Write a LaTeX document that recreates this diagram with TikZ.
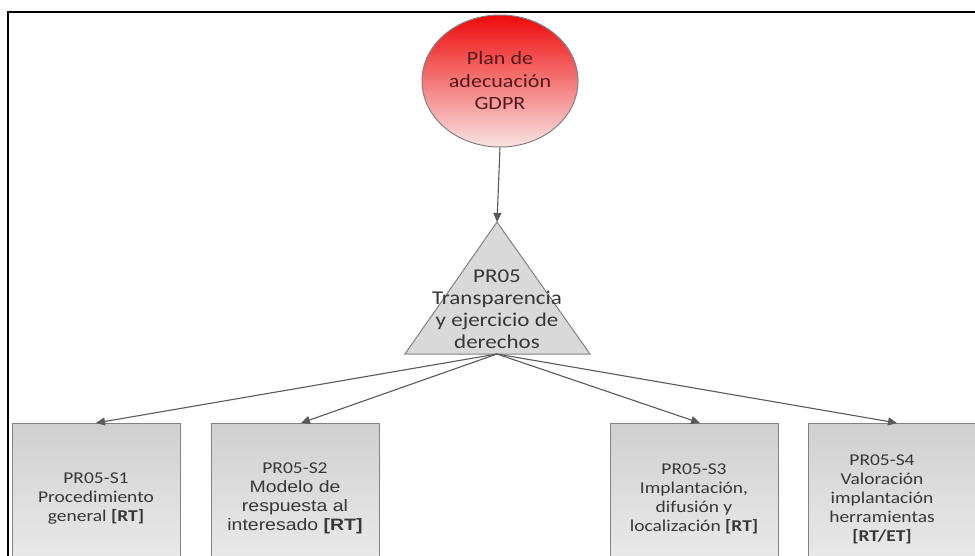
\documentclass[tikz,border=0pt]{standalone}
\usepackage{fontspec}
\setmainfont{Carlito}[FakeStretch=1.18]
\newfontfamily\arialf{Liberation Sans}[FakeStretch=1.18]
\usetikzlibrary{shapes.geometric,arrows.meta}
\definecolor{txtgray}{RGB}{55,55,55}
\definecolor{txtred}{RGB}{85,25,25}
\definecolor{linegray}{RGB}{90,90,90}
\definecolor{bordergray}{RGB}{130,130,130}
\definecolor{boxtop}{RGB}{208,208,208}
\definecolor{boxbot}{RGB}{236,236,236}
\definecolor{redtop}{RGB}{238,10,10}
\definecolor{redbot}{RGB}{250,228,228}
\definecolor{trifill}{RGB}{217,217,217}
\tikzset{
  conn/.style={draw=linegray, line width=1.1pt, -{Triangle[length=9pt,width=8pt]}},
  subbox/.style={draw=bordergray, line width=1pt, top color=boxtop, bottom color=boxbot,
    minimum width=168pt, minimum height=150pt, anchor=north, align=center,
    text=txtgray, font=\fontsize{16.5}{19}\selectfont, inner sep=0pt},
  boxtext/.style={align=center, text=txtgray, font=\fontsize{16.5}{19}\selectfont, inner sep=0pt},
  rootnode/.style={ellipse, draw=bordergray, line width=1pt, top color=redtop, bottom color=redbot,
    minimum width=156pt, minimum height=132pt, align=center, text=txtred,
    font=\fontsize{18.7}{22.5}\selectfont, inner sep=0pt},
  tritext/.style={align=center, text=txtgray, font=\fontsize{19.5}{22}\selectfont, inner sep=0pt},
  frame/.style={line width=2.8pt, black}
}
\begin{document}
\begin{tikzpicture}[x=1pt,y=-1pt]
\clip (0,0) rectangle (975,556);
\fill[white] (0,0) rectangle (975,556);
\draw[frame] (8,570) -- (8,12) -- (990,12);
% root
\node[rootnode] (gdpr) at (500,81) {Plan de\\adecuación\\GDPR};
% triangle
\coordinate (apex) at (497,222);
\coordinate (bl) at (405,354);
\coordinate (br) at (590,354);
\coordinate (basemid) at (497,354);
\filldraw[fill=trifill, draw=bordergray, line width=1pt] (apex) -- (br) -- (bl) -- cycle;
\node[tritext] (tri) at (497,309) {PR05\\Transparencia\\y ejercicio de\\derechos};
% boxes
\node[subbox] (s1) at (96,423) {PR05-S1\\Procedimiento\\general \textbf{[RT]}};
\node[subbox] (s2) at (295,423) {PR05-S2\\{\arialf Modelo de}\\{\arialf respuesta al}\\{\arialf interesado \textbf{[RT]}}};
\node[subbox] (s3) at (694,423) {PR05-S3\\Implantación,\\difusión y\\localización \textbf{[RT]}};
\node[subbox, minimum width=184pt] (s4) at (900,423) {};
\node[boxtext] (s4t) at (882,499) {PR05-S4\\Valoración\\implantación\\herramientas\\\textbf{[RT/ET]}};
% connectors
\draw[conn] (gdpr.south) -- (apex);
\draw[conn] (basemid) -- (s1.north);
\draw[conn] (basemid) -- ([xshift=6pt]s2.north);
\draw[conn] (basemid) -- ([xshift=6pt]s3.north);
\draw[conn] (basemid) -- ([xshift=-3pt]s4.north);
\end{tikzpicture}
\end{document}
